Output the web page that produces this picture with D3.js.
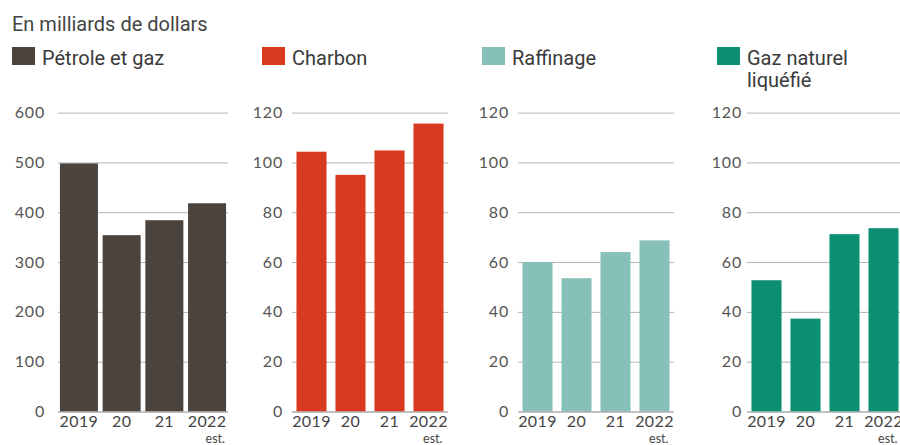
<!DOCTYPE html>
<html>
<head>
<meta charset="utf-8">
<script src="https://cdn.jsdelivr.net/npm/d3@7"></script>
<style>
  html, body { margin: 0; padding: 0; background: #fff; }
  svg { display: block; }
</style>
</head>
<body>
<svg id="chart" width="900" height="445"></svg>
<script>
// Annual values, in billions of dollars
const years = ["2019", "20", "21", "2022"];
const petroleGaz = [498, 354, 384, 418];
const charbon = [104.3, 95, 104.8, 115.6];
const raffinage = [60, 53.5, 64, 68.7];
const gnl = [52.7, 37.3, 71.2, 73.6];

const ticksPetrole = [0, 100, 200, 300, 400, 500, 600];
const ticks120 = [0, 20, 40, 60, 80, 100, 120];

const subtitle = "En milliards de dollars";
const estLabel = "est.";

const panels = [
  { label: ["Pétrole et gaz"], values: petroleGaz, color: "#4b443e", max: 600, ticks: ticksPetrole,
    gx0: 58, gx1: 228, labelEnd: 45, legendX: 12, band: { inner: 0.11, outer: 0.045 } },
  { label: ["Charbon"], values: charbon, color: "#d9391f", max: 120, ticks: ticks120,
    gx0: 292, gx1: 448, labelEnd: 283, legendX: 262, band: { inner: 0.23, outer: 0.115 } },
  { label: ["Raffinage"], values: raffinage, color: "#86c0b8", max: 120, ticks: ticks120,
    gx0: 518, gx1: 674, labelEnd: 509, legendX: 482, band: { inner: 0.23, outer: 0.115 } },
  { label: ["Gaz naturel", "liquéfié"], values: gnl, color: "#0b8e73", max: 120, ticks: ticks120,
    gx0: 747, gx1: 903, labelEnd: 742, legendX: 717, band: { inner: 0.23, outer: 0.115 } }
];

const svg = d3.select("#chart");
const textFont = "Roboto, 'Liberation Sans', sans-serif";
const numFont = "Lato, 'DejaVu Sans', sans-serif";

svg.append("text")
  .attr("x", 12).attr("y", 31)
  .attr("font-family", textFont).attr("font-size", 20)
  .attr("fill", "#444")
  .text(subtitle);

const yBottom = 411.5, yTop = 112.6;

panels.forEach(p => {
  // legend swatch and label
  svg.append("rect")
    .attr("x", p.legendX).attr("y", 47)
    .attr("width", 23).attr("height", 18)
    .attr("fill", p.color);
  p.label.forEach((line, i) => {
    svg.append("text")
      .attr("x", p.legendX + 30).attr("y", 65 + i * 22)
      .attr("font-family", textFont).attr("font-size", 20)
      .attr("fill", "#3a3a3a")
      .text(line);
  });

  const y = d3.scaleLinear().domain([0, p.max]).range([yBottom, yTop]);
  const x = d3.scaleBand().domain(years).range([p.gx0, p.gx1])
    .paddingInner(p.band.inner).paddingOuter(p.band.outer);

  const g = svg.append("g");

  // gridlines + tick labels
  const yAxis = d3.axisLeft(y).tickValues(p.ticks).tickSize(-(p.gx1 - p.gx0)).tickPadding(p.gx0 - p.labelEnd);
  const ag = g.append("g").attr("transform", `translate(${p.gx0},0)`).call(yAxis);
  ag.select(".domain").remove();
  ag.selectAll(".tick line").attr("stroke", "#b4b4b4").attr("stroke-width", 1);
  ag.selectAll(".tick text")
    .attr("font-family", numFont).attr("font-size", 16)
    .attr("letter-spacing", 0.8)
    .attr("fill", "#555");

  // bars
  g.selectAll("rect.bar")
    .data(p.values)
    .join("rect")
    .attr("class", "bar")
    .attr("x", (d, i) => x(years[i]))
    .attr("width", x.bandwidth())
    .attr("y", d => y(d))
    .attr("height", d => y(0) - y(d))
    .attr("fill", p.color);

  // baseline
  g.append("line")
    .attr("x1", p.gx0).attr("x2", p.gx1)
    .attr("y1", y(0) + 0.5).attr("y2", y(0) + 0.5)
    .attr("stroke", "#a8a8a8").attr("stroke-width", 1);

  // year labels
  g.selectAll("text.year")
    .data(years)
    .join("text")
    .attr("class", "year")
    .attr("x", d => x(d) + x.bandwidth() / 2)
    .attr("y", 427)
    .attr("text-anchor", "middle")
    .attr("font-family", numFont).attr("font-size", 16)
    .attr("letter-spacing", 0.4)
    .attr("fill", "#444")
    .text(d => d);

  const last = years[years.length - 1];
  g.append("text")
    .attr("x", x(last) + x.bandwidth() - 1)
    .attr("y", 443)
    .attr("text-anchor", "end")
    .attr("font-family", numFont).attr("font-size", 12.5)
    .attr("fill", "#444")
    .text(estLabel);
});
</script>
</body>
</html>
